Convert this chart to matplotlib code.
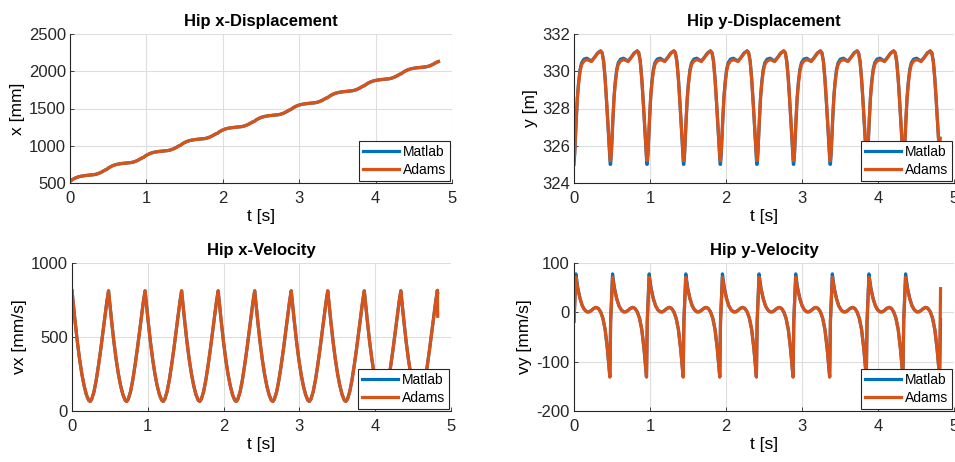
import numpy as np
import matplotlib.pyplot as plt

plt.rcParams['font.family'] = ['Liberation Sans', 'DejaVu Sans']
plt.rcParams['axes.unicode_minus'] = False

# start time of each gait cycle [s]
cycle_t0 = [0.0, 0.482, 0.964, 1.446, 1.928, 2.410, 2.892, 3.374, 3.856, 4.338]

# hip x-displacement [mm]: value at cycle start + shape inside one cycle
x_start = [522, 684, 845, 1006, 1166, 1326, 1487, 1647, 1808, 1968]
x_phase = [0.0, 0.02, 0.04, 0.07, 0.10, 0.13, 0.16, 0.19, 0.22, 0.26, 0.29,
           0.32, 0.35, 0.38, 0.41, 0.44, 0.46]
x_rise = [0, 16, 29, 45, 57, 66, 72, 77, 80, 83, 86, 91, 98, 109, 123, 141, 152]
x_tail = [(4.822, 2130)]

# hip y-displacement [m]
y_phase = [0.0, 0.01, 0.02, 0.03, 0.045, 0.06, 0.08, 0.10, 0.13, 0.17, 0.20,
           0.23, 0.27, 0.31, 0.35, 0.37, 0.39, 0.41, 0.43, 0.45, 0.465, 0.476]
y_matlab = [325.0, 325.6, 326.5, 327.4, 328.6, 329.4, 330.1, 330.45, 330.65,
            330.7, 330.62, 330.55, 330.75, 330.98, 331.1, 331.0, 330.55,
            329.6, 328.3, 326.9, 325.9, 325.0]
y_adams = [325.2, 325.7, 326.6, 327.5, 328.6, 329.3, 330.0, 330.35, 330.55,
           330.62, 330.58, 330.52, 330.73, 330.96, 331.08, 330.98, 330.5,
           329.55, 328.3, 326.9, 325.95, 325.2]
y_tail = [(4.816, 326.4)]

# hip x-velocity [mm/s]
vx_phase = [0.0, 0.02, 0.04, 0.07, 0.10, 0.13, 0.16, 0.19, 0.22, 0.24, 0.26,
            0.29, 0.32, 0.35, 0.38, 0.41, 0.44, 0.46]
vx_vals = [812, 710, 610, 470, 350, 250, 170, 110, 72, 65, 80, 130, 210, 310,
           420, 540, 660, 740]
vx_tail_matlab = [(4.820, 815), (4.824, 800)]
vx_tail_adams = [(4.820, 815), (4.824, 640)]

# hip y-velocity [mm/s]
vy_phase = [0.0, 0.025, 0.05, 0.08, 0.11, 0.14, 0.17, 0.20, 0.23, 0.26, 0.29,
            0.32, 0.35, 0.38, 0.41, 0.44, 0.46, 0.472]
vy_matlab = [-18, 78, 50, 28, 13, 5, 1, 1, 4, 8, 10, 8, 1, -12, -35, -75,
             -110, -131]
vy_adams = [-18, 71, 47, 27, 13, 5, 1, 1, 4, 8, 10, 8, 1, -12, -35, -75,
            -110, -131]
vy_tail_matlab = [(4.823, -15)]
vy_tail_adams = [(4.823, 48)]


def build(phase, vals, tail, offsets=None):
    t, v = [], []
    for k, t0 in enumerate(cycle_t0):
        add = 0 if offsets is None else offsets[k]
        for p, val in zip(phase, vals):
            if t0 + p <= tail[0][0] - 0.005:
                t.append(t0 + p)
                v.append(val + add)
    for tt, vv in tail:
        t.append(tt)
        v.append(vv)
    return np.array(t), np.array(v)


blue = '#0072BD'
orange = '#D95319'

fig = plt.figure(figsize=(9.55, 4.62), dpi=100)
W, H = 955, 462


def make_axes(x0, x1, ytop, ybot):
    return fig.add_axes([x0 / W, 1 - ybot / H, (x1 - x0) / W, (ybot - ytop) / H])


ax1 = make_axes(70, 452, 34, 183)
ax2 = make_axes(574, 954, 34, 183)
ax3 = make_axes(72, 451, 263, 411)
ax4 = make_axes(574, 954, 263, 411)

panels = [
    (ax1, build(x_phase, x_rise, x_tail, x_start), build(x_phase, x_rise, x_tail, x_start),
     'Hip x-Displacement', 'x [mm]', (500, 2500), [500, 1000, 1500, 2000, 2500]),
    (ax2, build(y_phase, y_matlab, y_tail), build(y_phase, y_adams, y_tail),
     'Hip y-Displacement', 'y [m]', (324, 332), [324, 326, 328, 330, 332]),
    (ax3, build(vx_phase, vx_vals, vx_tail_matlab), build(vx_phase, vx_vals, vx_tail_adams),
     'Hip x-Velocity', 'vx [mm/s]', (0, 1000), [0, 500, 1000]),
    (ax4, build(vy_phase, vy_matlab, vy_tail_matlab), build(vy_phase, vy_adams, vy_tail_adams),
     'Hip y-Velocity', 'vy [mm/s]', (-200, 100), [-200, -100, 0, 100]),
]

for ax, (tm, vm), (ta, va), title, ylab, ylim, yticks in panels:
    ax.plot(tm, vm, color=blue, lw=2.3, label='Matlab')
    ax.plot(ta, va, color=orange, lw=2.3, label='Adams')
    ax.set_xlim(0, 5)
    ax.set_ylim(*ylim)
    ax.set_xticks([0, 1, 2, 3, 4, 5])
    ax.set_yticks(yticks)
    ax.grid(True, color='#dedede', lw=0.8)
    ax.set_axisbelow(True)
    for s in ['top', 'right']:
        ax.spines[s].set_visible(False)
    for s in ['left', 'bottom']:
        ax.spines[s].set_color('#262626')
        ax.spines[s].set_linewidth(0.8)
    ax.tick_params(direction='in', length=3, width=0.6, labelsize=12,
                   colors='#262626')
    ax.tick_params(axis='x', pad=6)
    ax.tick_params(axis='y', pad=3)
    ax.set_title(title, fontsize=12, fontweight='bold', pad=6)
    ax.set_xlabel('t [s]', fontsize=12.5, labelpad=2)
    ax.set_ylabel(ylab, fontsize=12.5, labelpad=3)
    leg = ax.legend(loc='lower right', fontsize=10, fancybox=False,
                    edgecolor='#262626', framealpha=1, borderaxespad=0.15,
                    handlelength=2.6, handletextpad=0.25, labelspacing=0.25,
                    borderpad=0.3)
    leg.get_frame().set_linewidth(0.8)

fig.savefig('out.png', dpi=100)
